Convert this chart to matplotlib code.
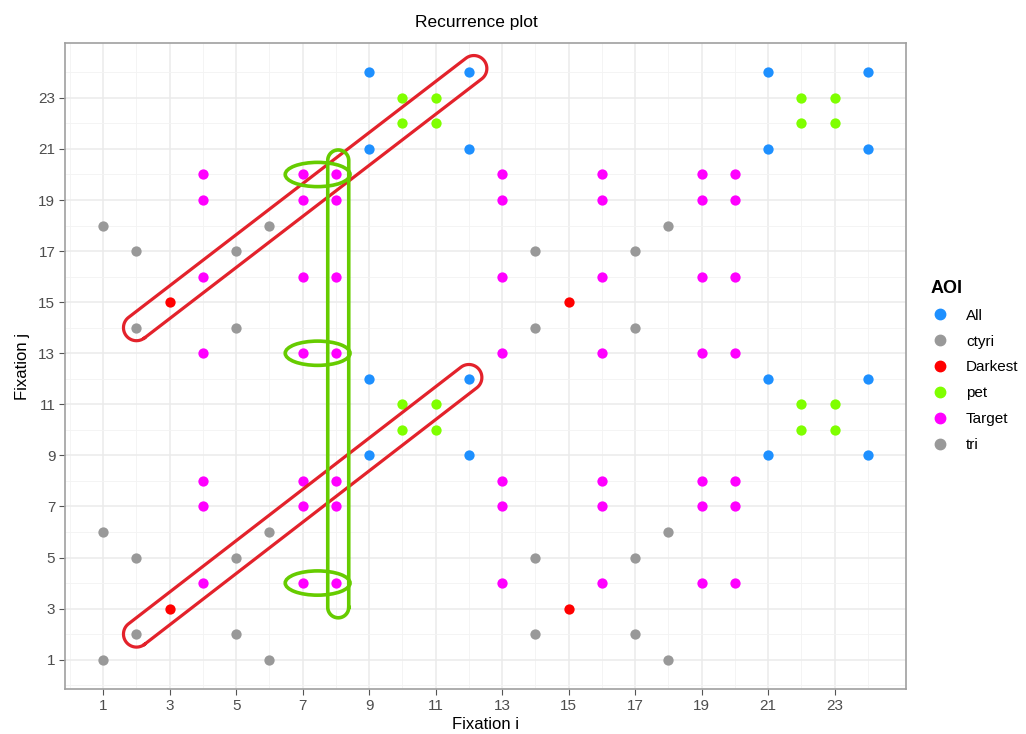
import numpy as np
import matplotlib.pyplot as plt
from matplotlib.lines import Line2D
from matplotlib.patches import Ellipse

plt.rcParams['font.family'] = ['Liberation Sans', 'DejaVu Sans']

# AOI visited at each fixation (fixation 1..24)
aoi_seq = ['tri', 'ctyri', 'Darkest', 'Target', 'ctyri', 'tri', 'Target', 'Target',
           'All', 'pet', 'pet', 'All', 'Target', 'ctyri', 'Darkest', 'Target',
           'ctyri', 'tri', 'Target', 'Target', 'All', 'pet', 'pet', 'All']
aoi_names = ['All', 'ctyri', 'Darkest', 'pet', 'Target', 'tri']
aoi_colors = ['#1E90FF', '#999999', '#FF0000', '#7FFF00', '#FF00FF', '#999999']
ticks = list(range(1, 24, 2))

# hand-drawn marks on top of the plot
red_loops = [((2.0, 2.0), (12.0, 12.05)), ((2.0, 14.0), (12.15, 24.15))]
green_bar = ((8.07, 3.05), (8.07, 20.55))
green_rings = [(7.45, 20.0), (7.45, 13.0), (7.45, 4.0)]

fig = plt.figure(figsize=(10.26, 7.34), dpi=100)
ax = fig.add_axes([65 / 1026, 1 - 689 / 734, 841 / 1026, 646 / 734])

n = len(aoi_seq)
fix = np.arange(1, n + 1)
for name, col in zip(aoi_names, aoi_colors):
    idx = fix[[a == name for a in aoi_seq]]
    xi, yj = np.meshgrid(idx, idx)
    ax.scatter(xi.ravel(), yj.ravel(), s=55, color=col, linewidths=0, zorder=3)

ax.set_xlim(1 - 0.05 * (n - 1), n + 0.05 * (n - 1))
ax.set_ylim(1 - 0.05 * (n - 1), n + 0.05 * (n - 1))
ax.set_xticks(ticks)
ax.set_yticks(ticks)
ax.set_xticks(np.arange(0, n + 1, 2), minor=True)
ax.set_yticks(np.arange(0, n + 1, 2), minor=True)
ax.grid(True, which='major', color='#EBEBEB', lw=1.1, zorder=0)
ax.grid(True, which='minor', color='#F3F3F3', lw=0.6, zorder=0)
ax.tick_params(which='major', length=4, color='#555555', labelsize=11,
               labelcolor='#4D4D4D', pad=3)
ax.tick_params(which='minor', length=0)
for sp in ax.spines.values():
    sp.set_color('#A0A0A0')
    sp.set_linewidth(1.2)
ax.set_xlabel('Fixation i', fontsize=12, labelpad=3)
ax.set_ylabel('Fixation j', fontsize=12, labelpad=6)
fig.text(476 / 1026, 1 - 22 / 734, 'Recurrence plot', ha='center', va='center',
         fontsize=12.5)


def stadium(p0, p1, hw):
    # rounded loop around a segment, width given in pixels
    a = ax.transData.transform(p0)
    b = ax.transData.transform(p1)
    d = (b - a) / np.linalg.norm(b - a)
    nrm = np.array([-d[1], d[0]])
    ang = np.arctan2(d[1], d[0])
    t1 = np.linspace(ang - np.pi / 2, ang + np.pi / 2, 30)
    t0 = np.linspace(ang + np.pi / 2, ang + 3 * np.pi / 2, 30)
    cap1 = b + hw * np.column_stack([np.cos(t1), np.sin(t1)])
    cap0 = a + hw * np.column_stack([np.cos(t0), np.sin(t0)])
    pts = np.vstack([a - hw * nrm, cap1, cap0, a - hw * nrm])
    return ax.transData.inverted().transform(pts)


for p0, p1 in red_loops:
    pts = stadium(p0, p1, 13)
    ax.plot(pts[:, 0], pts[:, 1], color='#E3222B', lw=2.3, zorder=4)

pts = stadium(green_bar[0], green_bar[1], 10.5)
ax.plot(pts[:, 0], pts[:, 1], color='#66CC00', lw=2.6, zorder=4)
for cx, cy in green_rings:
    ax.add_patch(Ellipse((cx, cy), 1.95, 0.95, fill=False, ec='#66CC00', lw=2.6,
                         zorder=4))

handles = [Line2D([], [], marker='o', ls='', color=c, markersize=7.5)
           for c in aoi_colors]
leg = fig.legend(handles, aoi_names, title='AOI', loc='upper left',
                 bbox_to_anchor=(917 / 1026, 1 - 266 / 734), frameon=False,
                 fontsize=11, title_fontsize=13, labelspacing=0.78,
                 handletextpad=1.1, handlelength=1.2, alignment='left')
leg.get_title().set_fontweight('bold')

fig.savefig('out.png', dpi=100)
